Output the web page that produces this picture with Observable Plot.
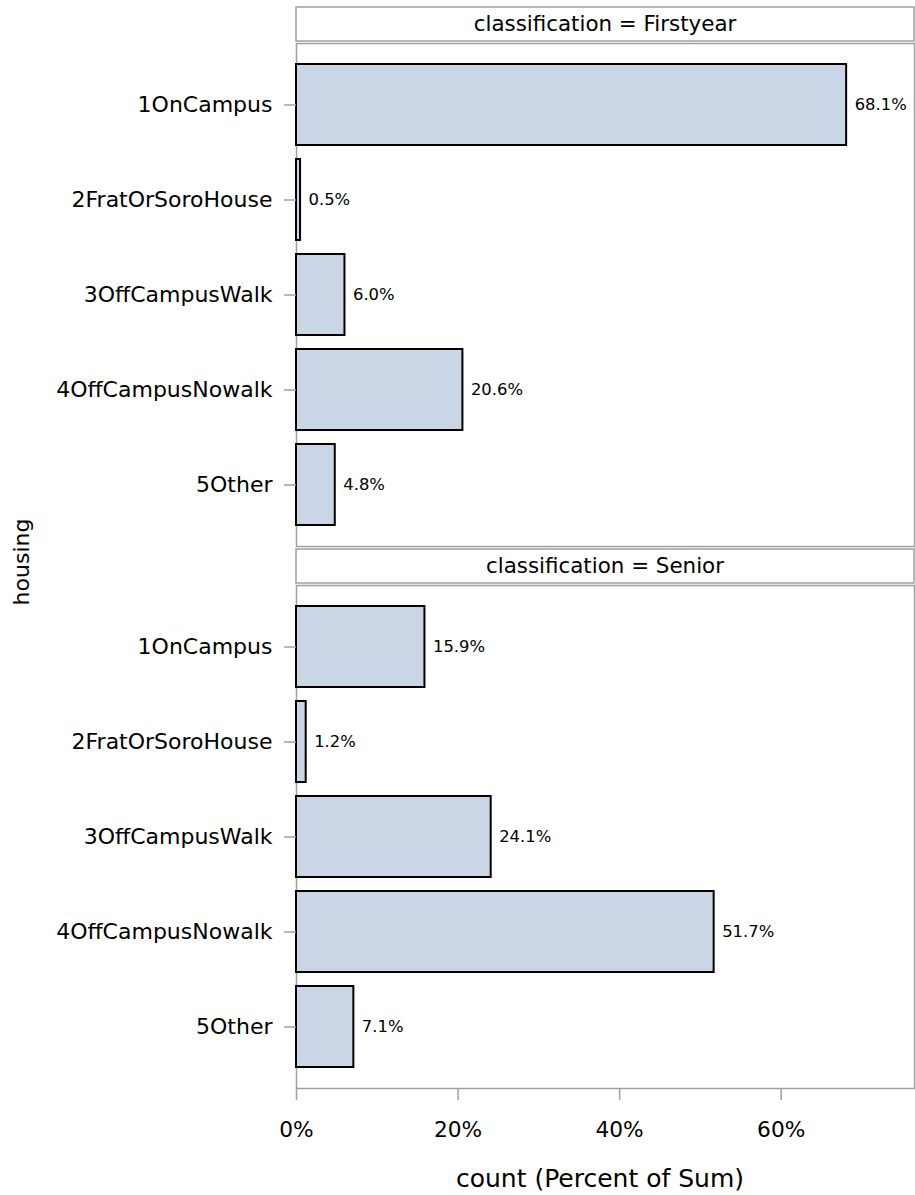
<!DOCTYPE html>
<html><head><meta charset="utf-8">
<script src="https://cdn.jsdelivr.net/npm/d3@7"></script>
<script src="https://cdn.jsdelivr.net/npm/@observablehq/plot@0.6"></script>
<style>body{margin:0;background:#fff} #chart svg{display:block}</style>
</head><body><div id="chart"></div>
<script>
const classifications = ["Firstyear", "Senior"];
const housingTypes = ["1OnCampus", "2FratOrSoroHouse", "3OffCampusWalk", "4OffCampusNowalk", "5Other"];
const firstyearPct = [68.1, 0.5, 6.0, 20.6, 4.8];
const seniorPct = [15.9, 1.2, 24.1, 51.7, 7.1];
const xTicks = [0, 20, 40, 60];
const xLabel = "count (Percent of Sum)";
const yLabel = "housing";
const headerPrefix = "classification = ";

const rows = [];
housingTypes.forEach((h, i) => rows.push({classification: "Firstyear", housing: h, percent: firstyearPct[i]}));
housingTypes.forEach((h, i) => rows.push({classification: "Senior", housing: h, percent: seniorPct[i]}));

const font = "'DejaVu Sans', sans-serif";
const gray = "#a0a0a0";

const chart = Plot.plot({
  width: 915, height: 1195,
  marginLeft: 296, marginRight: 1, marginTop: 43, marginBottom: 107,
  style: {fontFamily: font, fontSize: "22px", color: "black", background: "white"},
  x: {domain: [0, 76.5], ticks: xTicks, tickFormat: d => d + "%", label: null},
  y: {domain: housingTypes, paddingInner: 0.15, paddingOuter: 0.22, label: null},
  fy: {domain: classifications, paddingInner: 0.072, paddingOuter: 0, label: null, axis: null},
  marks: [
    Plot.frame({stroke: gray, strokeWidth: 1.5}),
    Plot.barX(rows, {fy: "classification", y: "housing", x: "percent", fill: "#cad5e5", stroke: "black", strokeWidth: 2}),
    Plot.text(rows, {fy: "classification", y: "housing", x: "percent", text: d => d.percent.toFixed(1) + "%", textAnchor: "start", dx: 8, fontSize: 16.4}),
    Plot.axisY({tickSize: 12, tickPadding: 12, stroke: gray, strokeWidth: 1.5, fontSize: 22, label: null}),
    Plot.axisX({ticks: xTicks, tickFormat: d => d + "%", tickSize: 12, tickPadding: 21, stroke: gray, strokeWidth: 1.5, fontSize: 21.7, label: null})
  ]
});

const svg = d3.select(chart);
const fy = chart.scale("fy");
const xs = chart.scale("x");
const xl = xs.range[0], xr = xs.range[1];
const hdr = svg.append("g").attr("font-family", font);
classifications.forEach(c => {
  const top = fy.apply(c);
  hdr.append("rect").attr("x", xl).attr("y", top - 36).attr("width", xr - xl).attr("height", 34)
    .attr("fill", "white").attr("stroke", gray).attr("stroke-width", 1.5);
  hdr.append("text").attr("x", (xl + xr) / 2).attr("y", top - 19).attr("dy", "0.35em")
    .attr("text-anchor", "middle").attr("font-size", 21.4).attr("fill", "black").text(headerPrefix + c);
});
svg.append("text").attr("font-family", font).attr("font-size", 25).attr("fill", "black")
  .attr("text-anchor", "middle").attr("x", 600).attr("y", 1178).attr("dy", "0.35em").text(xLabel);
svg.append("text").attr("font-family", font).attr("font-size", 22).attr("fill", "black")
  .attr("text-anchor", "middle").attr("transform", `translate(21,562) rotate(-90)`)
  .attr("dy", "0.35em").text(yLabel);

document.getElementById("chart").appendChild(chart);
</script>
</body></html>
